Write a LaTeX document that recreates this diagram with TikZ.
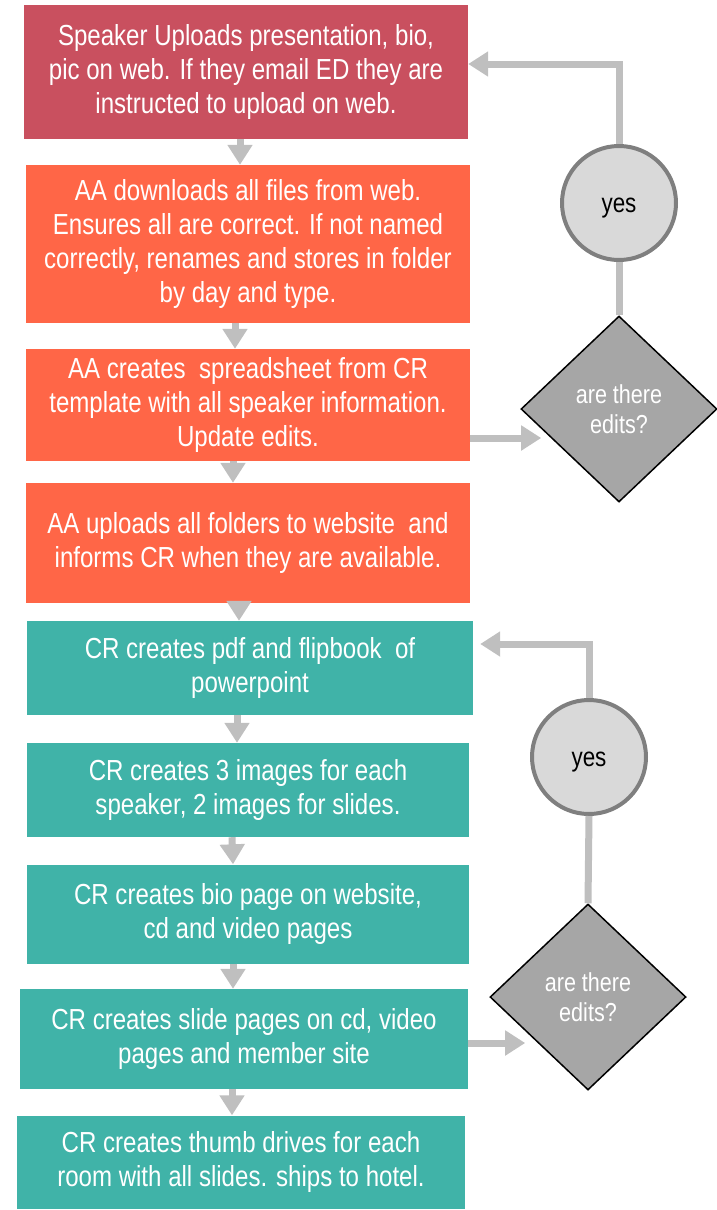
\documentclass[tikz,border=0pt]{standalone}
\usepackage{fontspec}
\setmainfont{Liberation Sans}[FakeStretch=0.83]
\usetikzlibrary{arrows.meta,shapes.geometric}
\definecolor{speakerred}{HTML}{C9505F}
\definecolor{aaorange}{HTML}{FF6647}
\definecolor{crteal}{HTML}{40B3A8}
\definecolor{flowgray}{HTML}{BFBFBF}
\definecolor{yesfill}{HTML}{D9D9D9}
\definecolor{yesline}{HTML}{7F7F7F}
\definecolor{editfill}{HTML}{A6A6A6}

\begin{document}
\begin{tikzpicture}[x=1pt, y=-1pt,
  task/.style={rectangle, fill=#1, text=white, align=center, inner sep=0pt,
    font=\fontsize{29}{34}\selectfont},
  yesnode/.style={circle, fill=yesfill, draw=yesline, line width=4pt,
    minimum size=114pt, inner sep=0pt, text height=18pt, text depth=0pt,
    font=\fontsize{27}{30}\selectfont},
  edits/.style={diamond, fill=editfill, draw=black, line width=1.5pt,
    minimum width=196pt, minimum height=186pt, inner sep=0pt, text=white,
    align=center, font=\fontsize{26}{30}\selectfont},
  flow/.style={draw=flowgray, line width=7pt, -{Triangle[length=20pt,width=24pt]}},
  link/.style={draw=flowgray, line width=7pt}]
  \useasboundingbox (0,0) rectangle (717,1210);

  % speaker and AA steps
  \node[task=speakerred, minimum width=444pt, minimum height=134pt] (s1) at (246,72)
    {Speaker Uploads presentation, bio,\\ pic on web. If they email ED they are\\ instructed to upload on web.};
  \node[task=aaorange, minimum width=444pt, minimum height=158pt] (a1) at (248,244)
    {AA downloads all files from web.\\ Ensures all are correct. If not named\\ correctly, renames and stores in folder\\ by day and type.};
  \node[task=aaorange, minimum width=444pt, minimum height=112pt] (a2) at (248,405)
    {AA creates~ spreadsheet from CR\\ template with all speaker information.\\ Update edits.};
  \node[task=aaorange, minimum width=444pt, minimum height=120pt] (a3) at (248,543)
    {AA uploads all folders to website~ and\\ informs CR when they are available.};

  % CR steps
  \node[task=crteal, minimum width=446pt, minimum height=94pt] (c1) at (250,668)
    {CR creates pdf and flipbook~ of\\ powerpoint};
  \node[task=crteal, minimum width=442pt, minimum height=94pt] (c2) at (248,790)
    {CR creates 3 images for each\\ speaker, 2 images for slides.};
  \node[task=crteal, minimum width=442pt, minimum height=99pt] (c3) at (248,914)
    {CR creates bio page on website,\\ cd and video pages};
  \node[task=crteal, minimum width=448pt, minimum height=100pt] (c4) at (244,1039)
    {CR creates slide pages on cd, video\\ pages and member site};
  \node[task=crteal, minimum width=448pt, minimum height=93pt] (c5) at (241,1162)
    {CR creates thumb drives for each\\ room with all slides. ships to hotel.};

  % loops
  \node[yesnode] (y1) at (619,203) {yes};
  \node[edits] (e1) at (619,409) {are there\\ edits?};
  \node[yesnode] (y2) at (589,757) {yes};
  \node[edits] (e2) at (588,997) {are there\\ edits?};

  \draw[flow] ([xshift=-6pt]s1.south) -- ([xshift=-8pt]a1.north);
  \draw[flow] ([xshift=-13pt]a1.south) -- ([xshift=-13pt]a2.north);
  \draw[flow] ([xshift=-15pt]a2.south) -- ([xshift=-15pt]a3.north);
  \draw[flow] ([xshift=-9pt]a3.south) -- ([xshift=-11pt]c1.north);
  \draw[flow] ([xshift=-13pt]c1.south) -- ([xshift=-11pt]c2.north);
  \draw[flow] ([xshift=-16pt]c2.south) -- ([xshift=-15pt]c3.north);
  \draw[flow] ([xshift=-15pt]c3.south) -- ([xshift=-11pt]c4.north);
  \draw[flow] ([xshift=-12pt]c4.south) -- ([xshift=-9pt]c5.north);

  \draw[flow] ([yshift=-33pt]a2.east) -- ++(71,0);
  \draw[link] (e1.north) -- (y1.south);
  \draw[flow] (y1.north) |- ([yshift=8pt]s1.east);

  \draw[flow] ([yshift=-4pt]c4.east) -- ++(57,0);
  \draw[link] (e2.north) -- (y2.south);
  \draw[flow, shorten >=7pt] (y2.north) |- ([yshift=24pt]c1.east);
\end{tikzpicture}
\end{document}
